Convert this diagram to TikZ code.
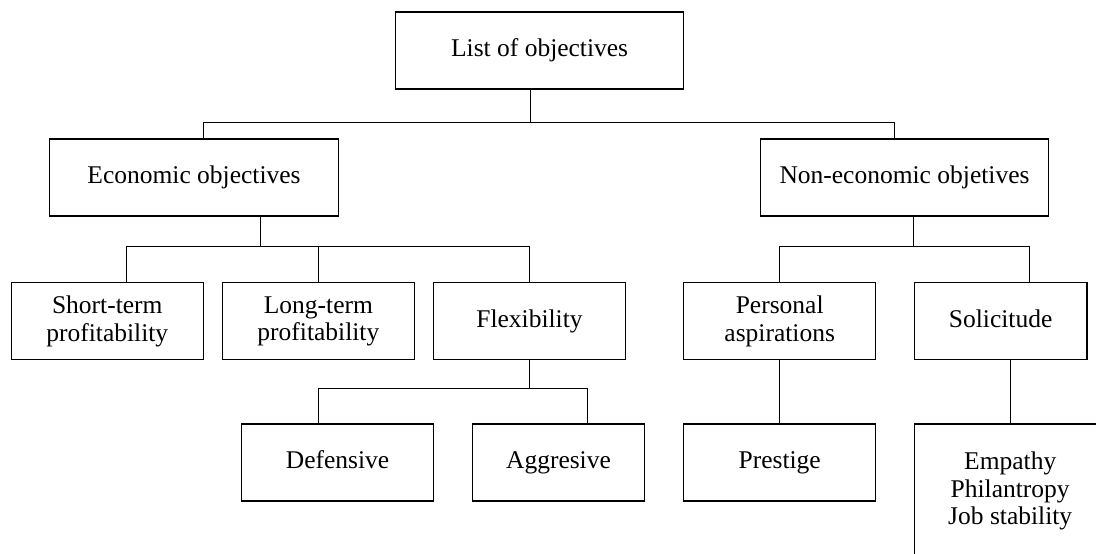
\documentclass[tikz,border=0pt]{standalone}
\usepackage{fontspec}
\setmainfont{Liberation Serif}

\begin{document}
\begin{tikzpicture}[x=1pt,y=-1pt,
		box/.style={draw, line width=1.3pt, inner sep=0pt, align=center, minimum height=77pt,
			font=\fontsize{25.5}{27.5}\selectfont},
		oneline/.style={box, text height=17pt, text depth=5pt},
		link/.style={line width=1pt}]
		\clip (0,0) rectangle (1096,554);
		\fill[white] (0,0) rectangle (1096,554);

		\node[oneline, minimum width=288pt] (top) at (539.6,50.4) {List of objectives};
		\node[oneline, minimum width=288.7pt] (econ) at (194,177.4) {Economic objectives};
		\node[oneline, minimum width=288pt] (non) at (904.5,177.4) {Non-economic objetives};

		\node[box, minimum width=192.2pt] (short) at (107.3,321.2) {Short-term\\profitability};
		\node[box, minimum width=192.2pt] (long) at (318.4,321.2) {Long-term\\profitability};
		\node[oneline, minimum width=192.2pt] (flex) at (529.5,321.2) {Flexibility};
		\node[box, minimum width=192.2pt] (pers) at (779.7,321.2) {Personal\\aspirations};
		\node[oneline, minimum width=172.8pt] (sol) at (1000.6,321.2) {Solicitude};

		\node[oneline, minimum width=191.6pt] (def) at (337.6,462.5) {Defensive};
		\node[oneline, minimum width=172pt] (agg) at (558.5,462.5) {Aggresive};
		\node[oneline, minimum width=192.2pt] (prest) at (779.7,462.5) {Prestige};
		\node[box, minimum width=192pt, minimum height=134pt] (emp) at (1010.2,491) {Empathy\\Philantropy\\Job stability};

		% first level
		\coordinate (j0) at (530,122.3);
		\coordinate (dEcon) at (203.4,122.3);
		\coordinate (dNon) at (894.7,122.3);
		\draw[link] (j0 |- top.south) -- (j0);
		\draw[link] (dEcon |- econ.north) -- (dEcon) -- (dNon) -- (dNon |- non.north);

		% economic objectives
		\coordinate (j1) at (260.7,246.6);
		\coordinate (dShort) at (126.5,246.6);
		\coordinate (dLong) at (318.7,246.6);
		\coordinate (dFlex) at (529.8,246.6);
		\draw[link] (j1 |- econ.south) -- (j1);
		\draw[link] (dShort |- short.north) -- (dShort) -- (dFlex) -- (dFlex |- flex.north);
		\draw[link] (dLong) -- (dLong |- long.north);

		% flexibility
		\coordinate (j2) at (529.8,388.3);
		\coordinate (dDef) at (318.7,388.3);
		\coordinate (dAgg) at (587.4,388.3);
		\draw[link] (j2 |- flex.south) -- (j2);
		\draw[link] (dDef |- def.north) -- (dDef) -- (dAgg) -- (dAgg |- agg.north);

		% non-economic objetives
		\coordinate (j3) at (913.7,246.6);
		\coordinate (dPers) at (779.3,246.6);
		\coordinate (dSol) at (1029,246.6);
		\draw[link] (j3 |- non.south) -- (j3);
		\draw[link] (dPers |- pers.north) -- (dPers) -- (dSol) -- (dSol |- sol.north);
		\draw[link] (dPers |- pers.south) -- (dPers |- prest.north);
		\coordinate (dEmp) at (1010,400);
		\draw[link] (dEmp |- sol.south) -- (dEmp |- emp.north);
	\end{tikzpicture}
\end{document}
